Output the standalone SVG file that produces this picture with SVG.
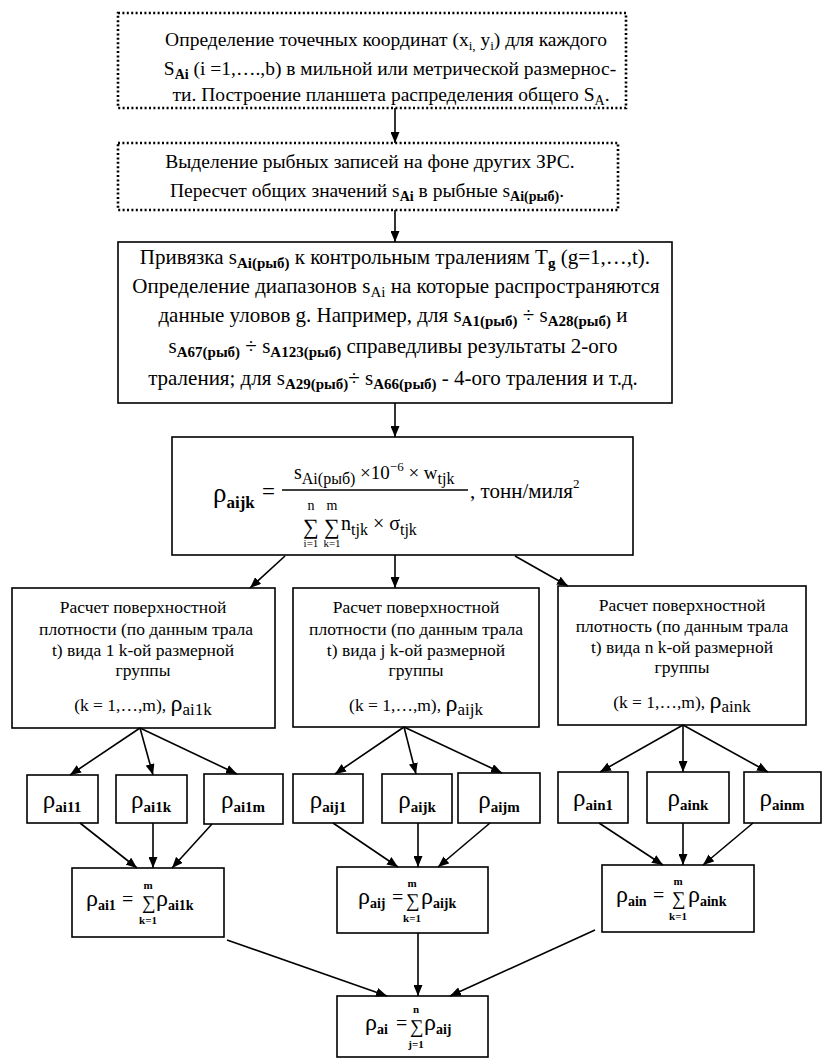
<svg xmlns="http://www.w3.org/2000/svg" width="823" height="1061" viewBox="0 0 823 1061">
<defs>
<marker id="ah" markerUnits="userSpaceOnUse" markerWidth="11" markerHeight="9" refX="11" refY="4.5" orient="auto">
<path d="M0,0 L11,4.5 L0,9 z" fill="#000"/>
</marker>
<style>
.t{font-family:"Liberation Serif","Times New Roman",serif;fill:#000}
.m{text-anchor:middle}
.b{font-weight:bold}
.box{fill:#fff;stroke:#000;stroke-width:1.6}
.dot{fill:#fff;stroke:#000;stroke-width:2.6;stroke-dasharray:2 2.4}
.conn line{stroke:#000;stroke-width:1.6;marker-end:url(#ah)}
.fl{stroke:#000;stroke-width:1.3}
</style>
</defs>
<rect width="823" height="1061" fill="#fff"/>

<g id="n1">
<rect class="dot" x="118" y="13" width="508" height="95"/>
<text class="t m" x="386" y="46" font-size="19.5">Определение точечных координат (x<tspan font-size="13" dy="4">i,</tspan><tspan dy="-4"> y</tspan><tspan font-size="13" dy="4">i</tspan><tspan dy="-4">) для каждого</tspan></text>
<text class="t m" x="390" y="75" font-size="19.5">S<tspan font-size="14" class="b" dy="4">Ai</tspan><tspan dy="-4"> (i =1,….,b) в мильной или метрической размернос-</tspan></text>
<text class="t m" x="391" y="101" font-size="19.5">ти. Построение планшета распределения общего S<tspan font-size="14" dy="4">A</tspan><tspan dy="-4">.</tspan></text>
</g>

<g id="n2">
<rect class="dot" x="118" y="143" width="500" height="67"/>
<text class="t m" x="370" y="168" font-size="19.5">Выделение рыбных записей на фоне других ЗРС.</text>
<text class="t m" x="367" y="197" font-size="19.5">Пересчет общих значений s<tspan font-size="14" class="b" dy="4">Ai</tspan><tspan dy="-4"> в рыбные s</tspan><tspan font-size="14" class="b" dy="4">Ai(рыб)</tspan><tspan dy="-4">.</tspan></text>
</g>

<g id="n3">
<rect class="box" x="118" y="242" width="554" height="161"/>
<text class="t m" x="395" y="264" font-size="21">Привязка s<tspan font-size="15" class="b" dy="4">Ai(рыб)</tspan><tspan dy="-4"> к контрольным тралениям T</tspan><tspan font-size="15" class="b" dy="4">g</tspan><tspan dy="-4"> (g=1,…,t).</tspan></text>
<text class="t m" x="396" y="293" font-size="21">Определение диапазонов  s<tspan font-size="15" dy="4">Ai</tspan><tspan dy="-4"> на которые распространяются</tspan></text>
<text class="t m" x="393" y="322" font-size="21">данные уловов g. Например, для s<tspan font-size="15" class="b" dy="4">A1(рыб)</tspan><tspan dy="-4"> ÷ s</tspan><tspan font-size="15" class="b" dy="4">A28(рыб)</tspan><tspan dy="-4"> и</tspan></text>
<text class="t m" x="393" y="353" font-size="21">s<tspan font-size="15" class="b" dy="4">A67(рыб)</tspan><tspan dy="-4"> ÷ s</tspan><tspan font-size="15" class="b" dy="4">A123(рыб)</tspan><tspan dy="-4">  справедливы результаты 2-ого</tspan></text>
<text class="t m" x="393" y="385" font-size="21">траления; для s<tspan font-size="15" class="b" dy="4">A29(рыб)</tspan><tspan dy="-4">÷ s</tspan><tspan font-size="15" class="b" dy="4">A66(рыб)</tspan><tspan dy="-4">  - 4-ого  траления и т.д.</tspan></text>
</g>

<g id="n4">
<rect class="box" x="172" y="437" width="461" height="118"/>
<text class="t" x="213" y="502" font-size="27">ρ<tspan font-size="17" class="b" dy="6">aijk</tspan></text>
<text class="t" x="262" y="499" font-size="23">=</text>
<text class="t" x="294" y="479" font-size="20">s<tspan font-size="16" dy="5">Ai(рыб)</tspan><tspan dy="-5" font-size="19"> ×10</tspan><tspan font-size="13" dy="-8">−6</tspan><tspan font-size="19" dy="8"> × w</tspan><tspan font-size="16" dy="5">tjk</tspan></text>
<line class="fl" x1="282" y1="490" x2="468" y2="490"/>
<text class="t" x="303" y="534" font-size="22">∑</text>
<text class="t m" x="311" y="510" font-size="14">n</text>
<text class="t m" x="311" y="547" font-size="11">i=1</text>
<text class="t" x="324" y="534" font-size="22">∑</text>
<text class="t m" x="332" y="510" font-size="14">m</text>
<text class="t m" x="332" y="547" font-size="11">k=1</text>
<text class="t" x="341" y="530" font-size="20">n<tspan font-size="16" dy="5">tjk</tspan><tspan dy="-5"> × σ</tspan><tspan font-size="16" dy="5">tjk</tspan></text>
<text class="t" x="470" y="498" font-size="21">,  тонн/миля<tspan font-size="13" dy="-10">2</tspan></text>
</g>

<g id="n5a">
<rect class="box" x="12" y="588" width="263" height="140"/>
<text class="t m" x="143" y="613" font-size="17.5">Расчет поверхностной</text>
<text class="t m" x="146" y="635" font-size="17.5">плотности (по данным трала</text>
<text class="t m" x="143" y="656" font-size="17.5">t) вида 1 k-ой размерной</text>
<text class="t m" x="143" y="676" font-size="17.5">группы</text>
<text class="t m" x="143" y="711" font-size="17.5">(k = 1,…,m), <tspan font-size="24">ρ</tspan><tspan font-size="17" dy="4">ai1k</tspan></text>
</g>
<g id="n5b">
<rect class="box" x="293" y="588" width="246" height="139"/>
<text class="t m" x="416" y="613" font-size="17.5">Расчет  поверхностной</text>
<text class="t m" x="416" y="635" font-size="17.5">плотности (по данным трала</text>
<text class="t m" x="416" y="656" font-size="17.5">t) вида  j k-ой размерной</text>
<text class="t m" x="416" y="676" font-size="17.5">группы</text>
<text class="t m" x="416" y="711" font-size="17.5">(k = 1,…,m), <tspan font-size="24">ρ</tspan><tspan font-size="17" dy="4">aijk</tspan></text>
</g>
<g id="n5c">
<rect class="box" x="558" y="586" width="248" height="139"/>
<text class="t m" x="682" y="611" font-size="17.5">Расчет поверхностной</text>
<text class="t m" x="682" y="632" font-size="17.5">плотность (по данным трала</text>
<text class="t m" x="682" y="653" font-size="17.5">t) вида n k-ой размерной</text>
<text class="t m" x="682" y="673" font-size="17.5">группы</text>
<text class="t m" x="682" y="708" font-size="17.5">(k = 1,…,m), <tspan font-size="24">ρ</tspan><tspan font-size="17" dy="4">aink</tspan></text>
</g>

<g id="r-ai11"><rect class="box" x="27" y="775" width="71" height="48"/><text class="t m" x="62" y="808" font-size="25">ρ<tspan class="b" font-size="15" dy="4">ai11</tspan></text></g>
<g id="r-ai1k"><rect class="box" x="116" y="775" width="71" height="48"/><text class="t m" x="151" y="808" font-size="25">ρ<tspan class="b" font-size="15" dy="4">ai1k</tspan></text></g>
<g id="r-ai1m"><rect class="box" x="204" y="774" width="79" height="50"/><text class="t m" x="243" y="808" font-size="25">ρ<tspan class="b" font-size="15" dy="4">ai1m</tspan></text></g>
<g id="r-aij1"><rect class="box" x="293" y="774" width="70" height="49"/><text class="t m" x="328" y="808" font-size="25">ρ<tspan class="b" font-size="15" dy="4">aij1</tspan></text></g>
<g id="r-aijk"><rect class="box" x="382" y="774" width="70" height="49"/><text class="t m" x="417" y="808" font-size="25">ρ<tspan class="b" font-size="15" dy="4">aijk</tspan></text></g>
<g id="r-aijm"><rect class="box" x="458" y="773" width="82" height="50"/><text class="t m" x="499" y="808" font-size="25">ρ<tspan class="b" font-size="15" dy="4">aijm</tspan></text></g>
<g id="r-ain1"><rect class="box" x="558" y="772" width="70" height="51"/><text class="t m" x="593" y="806" font-size="25">ρ<tspan class="b" font-size="15" dy="4">ain1</tspan></text></g>
<g id="r-aink"><rect class="box" x="647" y="772" width="82" height="51"/><text class="t m" x="688" y="806" font-size="25">ρ<tspan class="b" font-size="15" dy="4">aink</tspan></text></g>
<g id="r-ainm"><rect class="box" x="744" y="772" width="77" height="51"/><text class="t m" x="782" y="806" font-size="25">ρ<tspan class="b" font-size="15" dy="4">ainm</tspan></text></g>

<g id="s-ai1">
<rect class="box" x="72" y="868" width="152" height="69"/>
<text class="t" x="86" y="906" font-size="24">ρ<tspan class="b" font-size="14" dy="4">ai1</tspan></text>
<text class="t" x="122" y="906" font-size="20">=</text>
<text class="t" x="142" y="909" font-size="19">∑</text>
<text class="t m b" x="148" y="889" font-size="11">m</text>
<text class="t m b" x="148" y="924" font-size="11">k=1</text>
<text class="t" x="156" y="906" font-size="24">ρ<tspan class="b" font-size="14" dy="4">ai1k</tspan></text>
</g>
<g id="s-aij">
<rect class="box" x="337" y="867" width="151" height="66"/>
<text class="t" x="358" y="904" font-size="24">ρ<tspan class="b" font-size="14" dy="4">aij</tspan></text>
<text class="t" x="392" y="904" font-size="20">=</text>
<text class="t" x="406" y="907" font-size="19">∑</text>
<text class="t m b" x="412" y="887" font-size="11">m</text>
<text class="t m b" x="412" y="922" font-size="11">k=1</text>
<text class="t" x="421" y="904" font-size="24">ρ<tspan class="b" font-size="14" dy="4">aijk</tspan></text>
</g>
<g id="s-ain">
<rect class="box" x="602" y="865" width="152" height="67"/>
<text class="t" x="616" y="902" font-size="24">ρ<tspan class="b" font-size="14" dy="4">ain</tspan></text>
<text class="t" x="653" y="902" font-size="20">=</text>
<text class="t" x="672" y="905" font-size="19">∑</text>
<text class="t m b" x="678" y="885" font-size="11">m</text>
<text class="t m b" x="678" y="920" font-size="11">k=1</text>
<text class="t" x="688" y="902" font-size="24">ρ<tspan class="b" font-size="14" dy="4">aink</tspan></text>
</g>
<g id="s-ai">
<rect class="box" x="337" y="996" width="151" height="61"/>
<text class="t" x="365" y="1030" font-size="24">ρ<tspan class="b" font-size="14" dy="4">ai</tspan></text>
<text class="t" x="396" y="1030" font-size="20">=</text>
<text class="t" x="410" y="1033" font-size="19">∑</text>
<text class="t m b" x="416" y="1013" font-size="11">n</text>
<text class="t m b" x="416" y="1048" font-size="11">j=1</text>
<text class="t" x="424" y="1030" font-size="24">ρ<tspan class="b" font-size="14" dy="4">aij</tspan></text>
</g>

<g id="connectors" class="conn">
<line x1="395" y1="108" x2="395" y2="143"/>
<line x1="395" y1="210" x2="395" y2="242"/>
<line x1="395" y1="403" x2="395" y2="437"/>
<line x1="285" y1="556" x2="250" y2="588"/>
<line x1="395" y1="555" x2="395" y2="588"/>
<line x1="515" y1="556" x2="568" y2="586"/>
<line x1="140" y1="728" x2="70" y2="775"/>
<line x1="140" y1="728" x2="153" y2="775"/>
<line x1="140" y1="728" x2="237" y2="774"/>
<line x1="404" y1="727" x2="335" y2="774"/>
<line x1="404" y1="727" x2="416" y2="774"/>
<line x1="404" y1="727" x2="502" y2="773"/>
<line x1="683" y1="725" x2="600" y2="772"/>
<line x1="683" y1="725" x2="683" y2="772"/>
<line x1="683" y1="725" x2="768" y2="772"/>
<line x1="80" y1="823" x2="137" y2="868"/>
<line x1="153" y1="823" x2="153" y2="868"/>
<line x1="212" y1="824" x2="172" y2="868"/>
<line x1="333" y1="823" x2="398" y2="867"/>
<line x1="418" y1="823" x2="418" y2="867"/>
<line x1="490" y1="823" x2="438" y2="867"/>
<line x1="599" y1="823" x2="663" y2="865"/>
<line x1="683" y1="823" x2="683" y2="865"/>
<line x1="753" y1="823" x2="703" y2="865"/>
<line x1="227" y1="940" x2="387" y2="996"/>
<line x1="418" y1="933" x2="418" y2="996"/>
<line x1="595" y1="930" x2="450" y2="996"/>
</g>
</svg>
